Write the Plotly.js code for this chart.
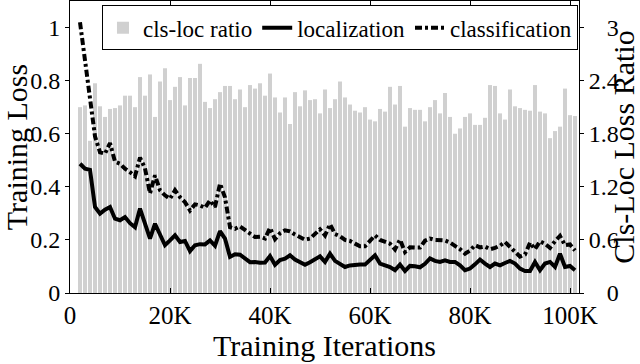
<!DOCTYPE html>
<html>
<head>
<meta charset="utf-8">
<script src="https://cdn.plot.ly/plotly-3.0.1.min.js"></script>
<style>
  body { margin: 0; background: #fff; }
  #plotArea { width: 640px; height: 364px; }
</style>
</head>
<body>
<div id="plotArea"></div>
<script>
// training iterations, in thousands
var iters = [2, 3, 4, 5, 6, 7, 8, 9, 10, 11, 12, 13, 14, 15, 16, 17, 18, 19, 20, 21,
  22, 23, 24, 25, 26, 27, 28, 29, 30, 31, 32, 33, 34, 35, 36, 37, 38, 39, 40, 41,
  42, 43, 44, 45, 46, 47, 48, 49, 50, 51, 52, 53, 54, 55, 56, 57, 58, 59, 60, 61,
  62, 63, 64, 65, 66, 67, 68, 69, 70, 71, 72, 73, 74, 75, 76, 77, 78, 79, 80, 81,
  82, 83, 84, 85, 86, 87, 88, 89, 90, 91, 92, 93, 94, 95, 96, 97, 98, 99, 100, 101];

var clsLocRatio = [2.10, 2.12, 1.72, 2.37, 2.11, 1.99, 2.08, 2.09, 2.12, 2.23,
  2.23, 2.10, 2.44, 2.23, 2.47, 1.99, 2.39, 2.54, 2.18, 2.33,
  2.44, 2.12, 2.43, 2.43, 2.59, 2.16, 2.09, 2.19, 2.27, 2.34,
  2.34, 2.19, 2.30, 2.10, 2.35, 2.31, 2.37, 2.23, 2.48, 2.21,
  2.04, 2.21, 1.91, 2.27, 2.11, 2.29, 2.18, 2.19, 2.03, 2.30,
  2.09, 2.19, 2.39, 2.21, 2.13, 2.06, 2.04, 2.10, 1.96, 1.94,
  2.08, 2.05, 2.33, 2.13, 2.34, 1.88, 2.09, 2.07, 2.07, 1.94,
  2.10, 2.18, 2.03, 2.26, 1.99, 1.80, 1.86, 1.99, 2.03, 1.90,
  1.90, 1.98, 2.35, 2.34, 2.03, 1.96, 2.30, 2.11, 2.09, 2.07,
  2.06, 2.35, 2.05, 2.03, 1.75, 1.83, 1.88, 2.31, 2.01, 2.00];

var localization = [0.487, 0.468, 0.464, 0.324, 0.299, 0.314, 0.324, 0.280, 0.274, 0.286,
  0.263, 0.248, 0.318, 0.261, 0.205, 0.261, 0.224, 0.180, 0.198, 0.217,
  0.192, 0.196, 0.158, 0.180, 0.184, 0.183, 0.198, 0.178, 0.233, 0.205,
  0.136, 0.146, 0.144, 0.129, 0.116, 0.117, 0.114, 0.115, 0.139, 0.106,
  0.124, 0.129, 0.142, 0.126, 0.117, 0.106, 0.116, 0.125, 0.138, 0.117,
  0.148, 0.121, 0.111, 0.098, 0.104, 0.107, 0.107, 0.107, 0.123, 0.142,
  0.111, 0.104, 0.098, 0.086, 0.107, 0.083, 0.102, 0.101, 0.097, 0.110,
  0.130, 0.121, 0.117, 0.123, 0.117, 0.117, 0.104, 0.086, 0.092, 0.108,
  0.126, 0.111, 0.098, 0.111, 0.104, 0.113, 0.121, 0.111, 0.092, 0.083,
  0.083, 0.117, 0.086, 0.111, 0.117, 0.098, 0.148, 0.098, 0.102, 0.086];

var classification = [1.020, 0.880, 0.725, 0.590, 0.530, 0.525, 0.565, 0.495, 0.487, 0.468,
  0.455, 0.440, 0.510, 0.470, 0.375, 0.443, 0.387, 0.368, 0.355, 0.387,
  0.361, 0.342, 0.311, 0.334, 0.330, 0.321, 0.349, 0.324, 0.412, 0.360,
  0.248, 0.242, 0.251, 0.236, 0.224, 0.211, 0.212, 0.205, 0.245, 0.203,
  0.225, 0.236, 0.232, 0.220, 0.212, 0.201, 0.205, 0.222, 0.240, 0.217,
  0.259, 0.222, 0.214, 0.200, 0.196, 0.186, 0.176, 0.176, 0.197, 0.217,
  0.200, 0.193, 0.186, 0.164, 0.201, 0.154, 0.172, 0.171, 0.171, 0.197,
  0.205, 0.200, 0.200, 0.198, 0.190, 0.178, 0.165, 0.148, 0.160, 0.180,
  0.172, 0.175, 0.165, 0.170, 0.178, 0.192, 0.172, 0.152, 0.137, 0.145,
  0.190, 0.165, 0.195, 0.185, 0.170, 0.195, 0.215, 0.180, 0.183, 0.160];

var xTickVals = [0, 20, 40, 60, 80, 100];
var xTickText = ['0', '20K', '40K', '60K', '80K', '100K'];

// right-axis labels line up on their right edge, as in the original figure
var ratioTickVals = [0, 0.6, 1.2, 1.8, 2.4, 3];
var ratioTickText = ['\u00a0\u00a0\u00a00', '0.6', '1.2', '1.8', '2.4', '\u00a0\u00a0\u00a03'];

var serif = 'Liberation Serif';

// bars go on the base axis so the loss lines (overlay axis) sit on top
var ratioBars = {
    x: iters,
    y: clsLocRatio,
    type: 'bar',
    name: 'cls-loc ratio',
    yaxis: 'y',
    marker: {color: '#d0d0d0', line: {width: 0}}
};

var locLine = {
    x: iters,
    y: localization,
    type: 'scatter',
    mode: 'lines',
    name: 'localization',
    yaxis: 'y2',
    line: {color: '#000', width: 4}
};

var clsLine = {
    x: iters,
    y: classification,
    type: 'scatter',
    mode: 'lines',
    name: 'classification',
    yaxis: 'y2',
    line: {color: '#000', width: 4, dash: '7px,3px,3px,3px'}
};

var layout = {
    width: 640,
    height: 364,
    margin: {l: 70, r: 61, t: 1, b: 71},
    paper_bgcolor: '#fff',
    plot_bgcolor: '#fff',
    font: {family: serif, size: 24, color: '#000'},
    bargap: 0.2,
    showlegend: true,
    legend: {
        orientation: 'h',
        x: 0.998, xanchor: 'right',
        y: 0.985, yanchor: 'top',
        bgcolor: '#fff',
        bordercolor: '#000',
        borderwidth: 1,
        font: {family: serif, size: 23, color: '#000'},
        itemwidth: 30,
        tracegroupgap: 0
    },
    xaxis: {
        range: [0, 101.8],
        tickvals: xTickVals,
        ticktext: xTickText,
        ticks: 'inside',
        ticklen: 5,
        tickcolor: '#000',
        showline: true,
        linecolor: '#000',
        linewidth: 1,
        mirror: 'ticks',
        showgrid: false,
        zeroline: false,
        tickfont: {family: serif, size: 25},
        title: {text: 'Training Iterations', font: {family: serif, size: 30}, standoff: 2}
    },
    yaxis: {
        side: 'right',
        range: [0, 3.3],
        tickvals: ratioTickVals,
        ticktext: ratioTickText,
        ticks: 'outside',
        ticklen: 4,
        tickcolor: '#000',
        showline: true,
        linecolor: '#000',
        showgrid: false,
        zeroline: false,
        tickfont: {family: serif, size: 24},
        title: {text: 'Cls-Loc Loss Ratio', font: {family: serif, size: 30}, standoff: 0}
    },
    yaxis2: {
        side: 'left',
        overlaying: 'y',
        range: [0, 1.1],
        dtick: 0.2,
        ticks: 'outside',
        ticklen: 4,
        tickcolor: '#000',
        showline: true,
        linecolor: '#000',
        showgrid: false,
        zeroline: false,
        tickfont: {family: serif, size: 24},
        title: {text: 'Training Loss', font: {family: serif, size: 30}, standoff: 4}
    }
};

Plotly.newPlot('plotArea', [ratioBars, locLine, clsLine], layout, {staticPlot: true});
</script>
</body>
</html>
